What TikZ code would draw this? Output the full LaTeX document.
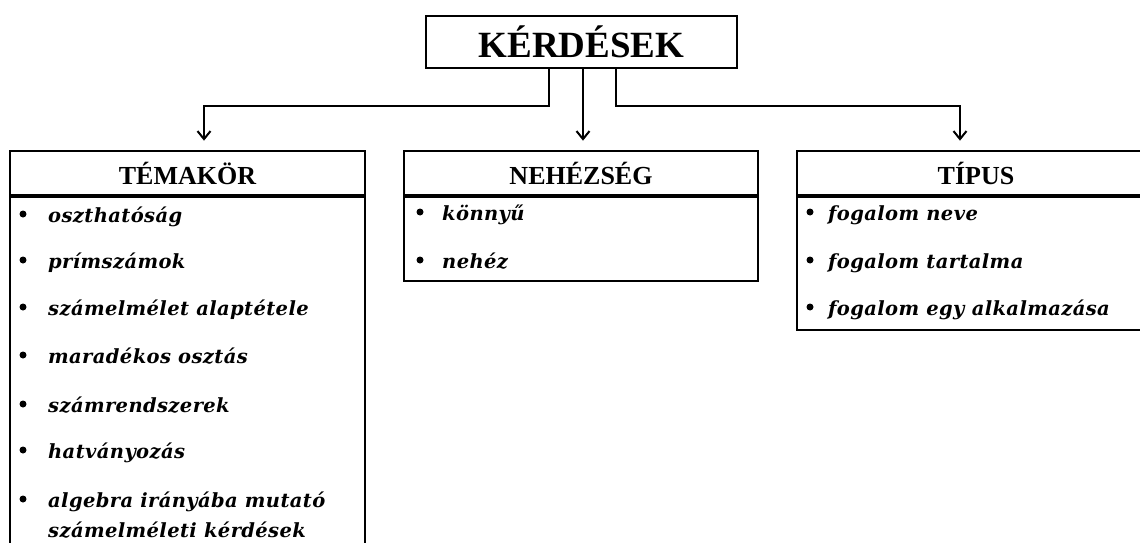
\documentclass[tikz,border=0pt]{standalone}
\usepackage{fontspec}
\setmainfont{Liberation Serif}
\newfontfamily\itemfont[LetterSpace=2]{DejaVu Serif}
\usetikzlibrary{arrows.meta,positioning}

\tikzset{
  cim/.style={draw,line width=2pt,minimum width=311pt,minimum height=52pt,
    font=\fontsize{37}{37}\selectfont\bfseries},
  fej/.style={draw,line width=2.7pt,minimum width=#1,minimum height=44pt,
    font=\fontsize{26}{26}\selectfont\bfseries},
  lista/.style={draw,line width=1.3pt,minimum width=#1,anchor=north},
  elem/.style={anchor=base west,inner sep=0pt,
    font=\itemfont\fontsize{19.5}{30}\selectfont\bfseries\itshape},
  pont/.style={circle,fill,inner sep=0pt,minimum size=7pt},
  nyil/.style={line width=2pt,-{Straight Barb[length=8pt,width=13pt]}}
}

\begin{document}
\begin{tikzpicture}[x=1pt,y=-1pt]
  \path[use as bounding box,clip] (0,0) rectangle (1140,543);

  % fo doboz
  \node[cim] (kerd) at (581.5,42) {KÉRDÉSEK};

  % fejlecek
  \node[fej=355pt] (tema) at (187.5,173) {TÉMAKÖR};
  \node[fej=354pt] (nehez) at (581,173) {NEHÉZSÉG};
  \node[fej=358pt] (tipus) at (976,173) {TÍPUS};

  % listak keretei
  \node[lista=355pt,minimum height=370pt] (temalista) at (tema.south) {};
  \node[lista=354pt,minimum height=84pt] (nehezlista) at (nehez.south) {};
  \node[lista=358pt,minimum height=133pt] (tipuslista) at (tipus.south) {};

  % nyilak
  \draw[nyil] ([xshift=-32.5pt]kerd.south) -- ++(0,37)
    -| ([xshift=16.5pt,yshift=9pt]tema.north);
  \draw[nyil] ([xshift=1.5pt]kerd.south) -- ([xshift=2pt,yshift=9pt]nehez.north);
  \draw[nyil] ([xshift=34.5pt]kerd.south) -- ++(0,37)
    -| ([xshift=-16pt,yshift=9pt]tipus.north);

  % temakor
  \node[pont] (tp1) at (23,214) {};
  \node[elem] (t1) at (48,222) {oszthatóság};
  \node[pont] (tp2) at (23,260) {};
  \node[elem] (t2) at (48,268) {prímszámok};
  \node[pont] (tp3) at (23,307) {};
  \node[elem] (t3) at (48,315) {számelmélet alaptétele};
  \node[pont] (tp4) at (23,355) {};
  \node[elem] (t4) at (48,363) {maradékos osztás};
  \node[pont] (tp5) at (23,404) {};
  \node[elem] (t5) at (48,412) {számrendszerek};
  \node[pont] (tp6) at (23,450) {};
  \node[elem] (t6) at (48,458) {hatványozás};
  \node[pont] (tp7) at (23,499) {};
  \node[elem,align=left] (t7) at (48,537) {algebra irányába mutató\\számelméleti kérdések};

  % nehezseg
  \node[pont] (np1) at (420,212) {};
  \node[elem] (n1) at (442,220) {könnyű};
  \node[pont] (np2) at (420,260) {};
  \node[elem] (n2) at (442,268) {nehéz};

  % tipus
  \node[pont] (fp1) at (810,212) {};
  \node[elem] (f1) at (828,220) {fogalom neve};
  \node[pont] (fp2) at (810,260) {};
  \node[elem] (f2) at (828,268) {fogalom tartalma};
  \node[pont] (fp3) at (810,307) {};
  \node[elem] (f3) at (828,315) {fogalom egy alkalmazása};
\end{tikzpicture}
\end{document}
